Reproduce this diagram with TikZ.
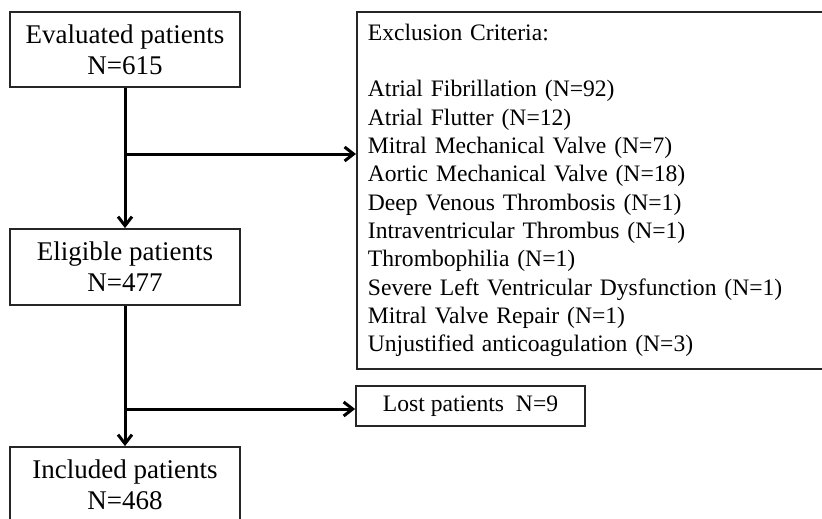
\documentclass[tikz,border=0pt]{standalone}
\usepackage{fontspec}
\setmainfont{Liberation Serif}
\usetikzlibrary{arrows.meta}
\tikzset{
  flowbox/.style={draw=black!85, line width=1.8pt, rectangle, align=center,
    font=\fontsize{27}{31}\selectfont, inner sep=0pt},
  smallbox/.style={draw=black!85, line width=1.8pt, rectangle,
    font=\fontsize{23.6}{28.3}\selectfont, inner sep=0pt},
  flowarrow/.style={draw=black, line width=3pt,
    -{Straight Barb[length=9pt,width=14pt,line width=3pt]}}
}
\begin{document}
\begin{tikzpicture}[x=1pt,y=-1pt]
\useasboundingbox (0,0) rectangle (822,519);
\clip (0,0) rectangle (822,519);
\fill[white] (0,0) rectangle (822,519);

\node[flowbox, minimum width=230pt, minimum height=75pt] (eval) at (125,49.5)
  {Evaluated patients\\N=615};
\node[flowbox, minimum width=230pt, minimum height=76pt] (elig) at (125,267)
  {Eligible patients\\N=477};
\node[flowbox, minimum width=230pt, minimum height=76pt] (incl) at (125,485)
  {Included patients\\N=468};

\node[smallbox, anchor=north west, minimum width=480pt, minimum height=357pt,
      text width=458pt, inner xsep=11pt, align=left] (excl) at (356,11)
  {Exclusion Criteria:\\[28.3pt]
   Atrial Fibrillation (N=92)\\
   Atrial Flutter (N=12)\\
   Mitral Mechanical Valve (N=7)\\
   Aortic Mechanical Valve (N=18)\\
   Deep Venous Thrombosis (N=1)\\
   Intraventricular Thrombus (N=1)\\
   Thrombophilia (N=1)\\
   Severe Left Ventricular Dysfunction (N=1)\\
   Mitral Valve Repair (N=1)\\
   Unjustified anticoagulation (N=3)};

\node[smallbox, minimum width=229pt, minimum height=40pt] (lost) at (470.5,406)
  {Lost patients\ \ N=9};

\coordinate (b1) at (125,154);
\coordinate (b2) at (125,409);

\draw[flowarrow] (eval.south) -- (elig.north);
\draw[flowarrow] (b1) -- (b1 -| excl.west);
\draw[flowarrow] (elig.south) -- (incl.north);
\draw[flowarrow] (b2) -- (b2 -| lost.west);
\end{tikzpicture}
\end{document}
